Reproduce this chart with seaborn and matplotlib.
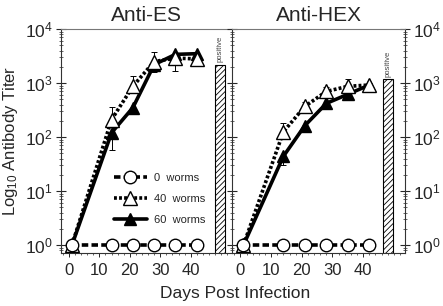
import numpy as np
import pandas as pd
import seaborn as sns
import matplotlib.pyplot as plt
from matplotlib.ticker import FixedLocator, LogLocator, NullFormatter, MultipleLocator

### Data ###
days = [1, 14, 21, 28, 35, 42]
es_0 = [1, 1, 1, 1, 1, 1]
es_40 = [1, 210, 870, 2500, 2900, 2800]
es_60 = [1, 120, 350, 2200, 3400, 3500]
es_40_hi = [1, 355, 1340, 3700, 3300, 3000]
es_60_lo = [1, 58, 280, 1600, 1650, 3300]
hex_0 = [1, 1, 1, 1, 1, 1]
hex_40 = [1, 125, 370, 700, 870, 920]
hex_60 = [1, 44, 163, 420, 620, 920]
hex_40_hi = [1, 185, 450, 850, 1170, 1000]
hex_60_lo = [1, 30, 130, 350, 550, 850]
positive = {"Anti-ES": 2200, "Anti-HEX": 1170}
bar_x = {"Anti-ES": 49.6, "Anti-HEX": 48.0}
ytick_vals = [1, 10, 100, 1000, 10000]
ytick_labels = ["10$^0$", "10$^1$", "10$^2$", "10$^3$", "10$^4$"]
xtick_vals = [0, 10, 20, 30, 40]
legend_labels = ["0  worms", "40  worms", "60  worms"]

sns.set_style("ticks")
plt.rcParams['font.family'] = ['Liberation Sans', 'DejaVu Sans']
plt.rcParams['mathtext.fontset'] = 'custom'
plt.rcParams['mathtext.rm'] = 'Liberation Sans'
plt.rcParams['mathtext.it'] = 'Liberation Sans'
plt.rcParams['hatch.linewidth'] = 0.6

fig = plt.figure(figsize=(4.43, 3.06), dpi=100)
axL = fig.add_axes([0.137, 0.173, 0.387, 0.732])
axR = fig.add_axes([0.524, 0.173, 0.390, 0.732])

panels = [
    (axL, "Anti-ES", es_0, es_40, es_60, es_40_hi, es_60_lo),
    (axR, "Anti-HEX", hex_0, hex_40, hex_60, hex_40_hi, hex_60_lo),
]

styles = [
    dict(linestyle=(0, (1.8, 0.9)), marker='o', markersize=9, markerfacecolor='white'),
    dict(linestyle=(0, (0.8, 0.6)), marker='^', markersize=10, markerfacecolor='white'),
    dict(linestyle='-', marker='^', markersize=9, markerfacecolor='black'),
]

for ax, title, s0, s40, s60, hi40, lo60 in panels:
    df = pd.DataFrame({"day": days * 3,
                       "titer": s0 + s40 + s60,
                       "group": [legend_labels[0]] * 6 + [legend_labels[1]] * 6 + [legend_labels[2]] * 6})
    # error bars first
    s40a = np.array(s40); s60a = np.array(s60)
    ax.errorbar(days, s40a, yerr=[np.zeros(6), np.array(hi40) - s40a], fmt='none',
                ecolor='black', elinewidth=0.7, capsize=2, capthick=0.7, zorder=2)
    ax.errorbar(days, s60a, yerr=[s60a - np.array(lo60), np.zeros(6)], fmt='none',
                ecolor='black', elinewidth=0.7, capsize=2, capthick=0.7, zorder=2)
    for g, st in zip(legend_labels[::-1], styles[::-1]):
        sub = df[df["group"] == g]
        sns.lineplot(data=sub, x="day", y="titer", ax=ax, color='black', linewidth=2.6,
                     markeredgecolor='black', markeredgewidth=1.0, label=g, zorder=3, **st)
    ax.bar([bar_x[title]], [positive[title]], width=3.3, bottom=0, color='white',
           edgecolor='black', linewidth=0.8, hatch='//////', zorder=2)
    ax.text(bar_x[title], positive[title] * 1.12, "positive", rotation=90, fontsize=5.5,
            ha='center', va='bottom', color='#444444')
    ax.set_yscale('log')
    ax.set_ylim(0.71, 10000)
    ax.set_xlim(-2.7, 53.6)
    ax.set_title(title, fontsize=15, pad=6)
    ax.set_xlabel("")
    ax.set_ylabel("")
    ax.xaxis.set_major_locator(FixedLocator(xtick_vals))
    ax.xaxis.set_minor_locator(MultipleLocator(2))
    ax.yaxis.set_major_locator(FixedLocator(ytick_vals))
    ax.yaxis.set_minor_locator(LogLocator(base=10, subs=np.arange(2, 10)))
    ax.yaxis.set_minor_formatter(NullFormatter())
    ax.tick_params(axis='x', which='major', direction='out', length=3, width=0.7, labelsize=12, pad=4)
    ax.tick_params(axis='x', which='minor', direction='out', length=1.5, width=0.5)
    ax.tick_params(axis='y', which='major', direction='inout', length=7, width=0.8, labelsize=12.5, pad=2)
    ax.tick_params(axis='y', which='minor', direction='inout', length=3.5, width=0.5)
    for sp in ax.spines.values():
        sp.set_linewidth(0.8)
        sp.set_color('#333333')
    ax.spines['top'].set_color('#777777')
    ax.get_legend().remove()

axL.set_yticklabels(ytick_labels)
axL.spines['right'].set_visible(False)
axL.set_ylabel("Log$_{10}$ Antibody Titer", fontsize=12, labelpad=4)

axR.yaxis.tick_right()
axR.yaxis.set_ticks_position('both')
axR.set_yticklabels(ytick_labels)
axR.tick_params(axis='y', which='both', labelleft=False, labelright=True)

# legend in the left panel
handles, labels = axL.get_legend_handles_labels()
order = [labels.index(l) for l in legend_labels]
axL.legend([handles[i] for i in order], [labels[i] for i in order], loc='lower left',
           bbox_to_anchor=(0.25, 0.08), frameon=False, fontsize=8, handlelength=3.0,
           labelspacing=1.0, handletextpad=0.6)

fig.text(0.53, 0.025, "Days Post Infection", ha='center', fontsize=12.5)

fig.savefig("out.png", dpi=100)
